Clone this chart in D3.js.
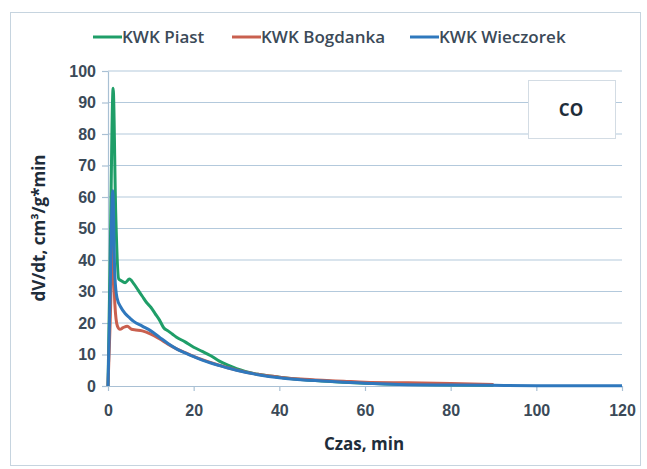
<!DOCTYPE html>
<html>
<head>
<meta charset="utf-8">
<script src="https://cdn.jsdelivr.net/npm/d3@7"></script>
<style>
  body { margin: 0; background: #fff; }
  svg { display: block; font-family: 'Open Sans', sans-serif; }
  .grid line { stroke: #b3c9dc; stroke-width: 1.2; }
  .axis path, .axis line { stroke: #a9c0d4; stroke-width: 1.2; }
  .axis text { fill: #3b4a58; font-size: 16px; font-weight: 600; }
</style>
</head>
<body>
<svg class="chart"></svg>
<script>
// time (min) and dV/dt values per mine
const piastT = [0, 0.5, 1.2, 1.8, 2.5, 3, 4, 5, 6, 7, 8, 9, 10, 11, 12, 13, 14, 15, 16, 18, 20, 22, 24, 26, 28, 30, 35, 40, 45, 50, 55, 60, 70, 80, 90];
const piastV = [0, 40, 94.5, 55, 34, 33.5, 32.8, 34, 32.5, 30.5, 28.5, 26.5, 25, 23, 21, 18.5, 17.5, 16.5, 15.5, 14, 12.3, 11, 9.6, 7.9, 6.6, 5.5, 3.7, 2.8, 2.1, 1.6, 1.2, 0.9, 0.5, 0.3, 0.2];

const bogdankaT = [0, 0.5, 1.1, 1.6, 2.2, 2.8, 3.5, 4.5, 5.5, 6.5, 8, 10, 12, 14, 16, 18, 20, 25, 30, 35, 40, 45, 50, 55, 60, 70, 80, 90];
const bogdankaV = [0, 20, 45, 26, 19, 18, 18.5, 19, 18, 17.8, 17.5, 16.5, 15, 13.3, 11.8, 10.6, 9.4, 7, 5.1, 3.7, 2.8, 2.2, 1.8, 1.5, 1.2, 1.0, 0.8, 0.5];

const wieczorekT = [0, 0.5, 1.1, 1.6, 2.1, 3, 4, 5, 6, 8, 10, 12, 14, 16, 18, 20, 22, 24, 26, 28, 30, 35, 40, 45, 50, 55, 60, 65, 70, 80, 90, 100, 110, 120];
const wieczorekV = [0, 30, 62, 35, 28, 25, 23, 21.7, 20.5, 19, 17.5, 15.5, 13.5, 11.8, 10.5, 9.3, 8.2, 7.3, 6.5, 5.7, 5, 3.6, 2.6, 2, 1.6, 1.2, 0.9, 0.6, 0.4, 0.3, 0.2, 0.1, 0.1, 0.1];

const seriesNames = ['KWK Piast', 'KWK Bogdanka', 'KWK Wieczorek'];
const seriesColors = ['#1f9e68', '#c9604f', '#2f78bd'];
const xTicks = [0, 20, 40, 60, 80, 100, 120];
const yTicks = [0, 10, 20, 30, 40, 50, 60, 70, 80, 90, 100];

const W = 647, H = 469;
const svg = d3.select('.chart').attr('width', W).attr('height', H);

// outer frame
svg.append('rect')
  .attr('x', 10.5).attr('y', 12.5)
  .attr('width', 630).attr('height', 453)
  .attr('fill', '#fff')
  .attr('stroke', '#c6d4df');

const x = d3.scaleLinear().domain([0, 120]).range([108, 622]);
const y = d3.scaleLinear().domain([0, 100]).range([386, 71]);

// gridlines
svg.append('g').attr('class', 'grid')
  .selectAll('line').data(yTicks.slice(1)).enter().append('line')
  .attr('x1', x(0)).attr('x2', x(120))
  .attr('y1', d => y(d)).attr('y2', d => y(d));

svg.append('g').attr('class', 'axis')
  .attr('transform', `translate(0,${y(0)})`)
  .call(d3.axisBottom(x).tickValues(xTicks).tickSize(5).tickPadding(14).tickSizeOuter(0));

svg.append('g').attr('class', 'axis')
  .attr('transform', `translate(${x(0)},0)`)
  .call(d3.axisLeft(y).tickValues(yTicks).tickSize(6).tickPadding(6).tickSizeOuter(0));

// lines
const series = [
  piastT.map((t, i) => [t, piastV[i]]),
  bogdankaT.map((t, i) => [t, bogdankaV[i]]),
  wieczorekT.map((t, i) => [t, wieczorekV[i]])
];

const line = d3.line()
  .x(d => x(d[0]))
  .y(d => y(d[1]))
  .curve(d3.curveMonotoneX);

svg.append('g').selectAll('path').data(series).enter().append('path')
  .attr('d', line)
  .attr('fill', 'none')
  .attr('stroke', (d, i) => seriesColors[i])
  .attr('stroke-width', 3)
  .attr('stroke-linejoin', 'round');

// CO label box
svg.append('rect')
  .attr('x', 528.5).attr('y', 80.5)
  .attr('width', 87).attr('height', 58)
  .attr('fill', '#fff')
  .attr('stroke', '#d3dce4');

svg.append('text')
  .attr('x', 571).attr('y', 116)
  .attr('text-anchor', 'middle')
  .attr('font-size', 17).attr('font-weight', 700)
  .attr('fill', '#1f2d3a')
  .text('CO');

// legend
const legendX = [93, 232, 410];
const legend = svg.append('g').selectAll('g').data(seriesNames).enter().append('g')
  .attr('transform', (d, i) => `translate(${legendX[i]},37)`);

legend.append('line')
  .attr('x1', 0).attr('x2', 29)
  .attr('stroke', (d, i) => seriesColors[i])
  .attr('stroke-width', 3);

legend.append('text')
  .attr('x', 29).attr('y', 6)
  .attr('font-size', 17).attr('font-weight', 600)
  .attr('fill', '#3b4a58')
  .text(d => d);

// axis titles
svg.append('text')
  .attr('x', 364).attr('y', 450)
  .attr('text-anchor', 'middle')
  .attr('font-size', 17).attr('font-weight', 700)
  .attr('fill', '#1f2d3a')
  .text('Czas, min');

svg.append('text')
  .attr('transform', 'translate(45,228) rotate(-90)')
  .attr('text-anchor', 'middle')
  .attr('font-size', 17).attr('font-weight', 700)
  .attr('fill', '#1f2d3a')
  .text('dV/dt, cm³/g*min');
</script>
</body>
</html>
